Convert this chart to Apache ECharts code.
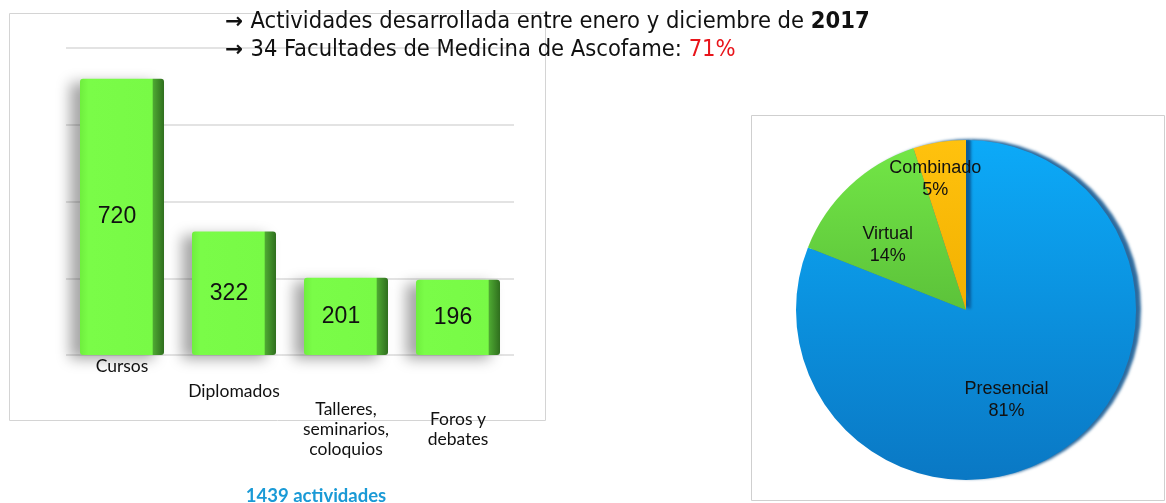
<!DOCTYPE html>
<html><head><meta charset="utf-8">
<script src="https://cdn.jsdelivr.net/npm/echarts@6/dist/echarts.min.js"></script>
<style>html,body{margin:0;padding:0;background:#fff}#c{width:1166px;height:503px}</style>
</head><body><div id="c"></div>
<script>
const categories = ['Cursos', 'Diplomados', 'Talleres,\nseminarios,\ncoloquios', 'Foros y\ndebates'];
const barValues = [720, 322, 201, 196];
const pieNames = ['Presencial', 'Virtual', 'Combinado'];
const pieValues = [81, 14, 5];
const titleLine1 = ['Actividades desarrollada entre enero y diciembre de ', '2017'];
const titleLine2 = ['34 Facultades de Medicina de Ascofame: ', '71%'];
const totalText = '1439 actividades';

const chart = echarts.init(document.getElementById('c'));
const spacer = [1, 26, 44, 54];
const rich = { t: { fontFamily: 'Lato', fontSize: 17.5, color: '#111', lineHeight: 20, align: 'center' } };
spacer.forEach((h, i) => { rich['s' + i] = { height: h, fontSize: 1, lineHeight: h }; });

const pieColors = [
  new echarts.graphic.LinearGradient(0, 0, 0, 1, [{offset: 0, color: '#0caaf8'}, {offset: 1, color: '#0a78c4'}]),
  new echarts.graphic.LinearGradient(0, 0, 0, 1, [{offset: 0, color: '#72e646'}, {offset: 1, color: '#5cc23a'}]),
  new echarts.graphic.LinearGradient(0, 0, 0, 1, [{offset: 0, color: '#ffc20e'}, {offset: 1, color: '#f2b000'}])
];
const pieLabelShift = [[-9, 17], [-18, -1], [-17, -44]];
const titleFont = 'DejaVu Sans Condensed';
const ts = 23.5;

chart.setOption({
  animation: false,
  title: [
    {
      left: 220, top: 3,
      text: '{a|→ }{n|' + titleLine1[0] + '}{b|' + titleLine1[1] + '}\n{a|→ }{n|' + titleLine2[0] + '}{r|' + titleLine2[1] + '}',
      textStyle: {
        fontWeight: 'normal',
        rich: {
          a: { fontFamily: 'DejaVu Sans', fontSize: ts - 2, color: '#111', fontWeight: 'bold', lineHeight: 28 },
          n: { fontFamily: titleFont, fontSize: ts, color: '#111', fontWeight: 'normal', lineHeight: 28 },
          b: { fontFamily: titleFont, fontSize: ts, color: '#111', fontWeight: 'bold', lineHeight: 28 },
          r: { fontFamily: titleFont, fontSize: ts, color: '#e8151b', fontWeight: 'normal', lineHeight: 28 }
        }
      }
    },
    {
      left: 311, top: 482, textAlign: 'center',
      text: totalText,
      textStyle: { fontFamily: 'Lato', fontSize: 18.5, fontWeight: 'bold', color: '#1a9ad6' }
    }
  ],
  graphic: [
    { type: 'rect', left: 7, top: 11, shape: { width: 536, height: 407 }, style: { fill: 'none', stroke: '#d4d4d4', lineWidth: 1 }, z: -10 },
    { type: 'rect', left: 749, top: 113, shape: { width: 413, height: 385 }, style: { fill: 'none', stroke: '#cfcfcf', lineWidth: 1 }, z: -10 }
  ],
  grid: { left: 66, top: 48, width: 448, bottom: 148 },
  xAxis: {
    type: 'category', data: categories,
    axisLine: { show: false }, axisTick: { show: false },
    axisLabel: {
      interval: 0, margin: 0,
      formatter: (v, i) => '{s' + i + '| }\n' + v.split('\n').map(l => '{t|' + l + '}').join('\n'),
      rich: rich
    }
  },
  yAxis: {
    type: 'value', min: 0, max: 800, interval: 200,
    axisLabel: { show: false }, axisLine: { show: false }, axisTick: { show: false },
    splitLine: { lineStyle: { color: '#dadada', width: 1.5 } }
  },
  series: [
    {
      type: 'bar', data: barValues, barWidth: 84,
      itemStyle: {
        borderRadius: 3,
        color: new echarts.graphic.LinearGradient(0, 0, 1, 0, [
          {offset: 0, color: '#6fee3e'}, {offset: 0.1, color: '#7afc48'},
          {offset: 0.86, color: '#78fa46'}, {offset: 0.87, color: '#4ea932'}, {offset: 1, color: '#2f6e1e'}
        ]),
        shadowColor: 'rgba(0,0,0,0.35)', shadowBlur: 14, shadowOffsetX: -10, shadowOffsetY: 4
      },
      label: {
        show: true, position: 'inside', offset: [-5, 0],
        fontFamily: 'Liberation Sans', fontSize: 23, color: '#111'
      }
    },
    {
      type: 'pie', center: [966, 310], radius: 170, startAngle: 90, clockwise: true,
      avoidLabelOverlap: false,
      data: pieValues.map((v, i) => ({ name: pieNames[i], value: v, itemStyle: { color: pieColors[i] } })),
      itemStyle: { borderWidth: 0, shadowColor: 'rgba(8,80,140,0.85)', shadowBlur: 3, shadowOffsetX: 5, shadowOffsetY: -1 },
      label: {
        show: true, position: 'inside',
        formatter: p => p.name + '\n' + p.value + '%',
        fontFamily: 'Liberation Sans', fontSize: 18, color: '#111', lineHeight: 22
      },
      labelLayout: p => ({ dx: pieLabelShift[p.dataIndex][0], dy: pieLabelShift[p.dataIndex][1] }),
      labelLine: { show: false }
    }
  ]
});
</script></body></html>
